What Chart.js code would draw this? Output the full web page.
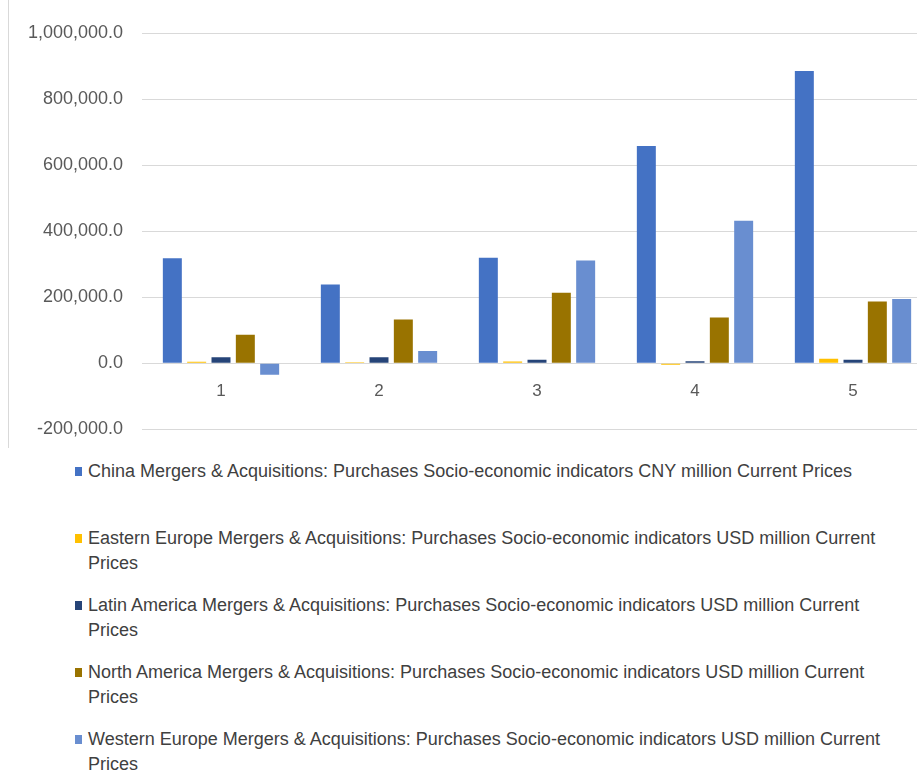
<!DOCTYPE html>
<html>
<head>
<meta charset="utf-8">
<script src="https://cdn.jsdelivr.net/npm/chart.js@4/dist/chart.umd.min.js"></script>
<style>
  html, body { margin: 0; padding: 0; background: #fff; }
  body { width: 917px; height: 771px; overflow: hidden; position: relative; font-family: "Liberation Sans", Arial, sans-serif; }
  #frame { position: absolute; left: 8px; top: 0; width: 0; height: 448px; border-left: 1px solid #d9d9d9; }
  #c { position: absolute; left: 0; top: 0; }
  #legend { position: absolute; left: 75px; top: 459px; width: 830px; }
  .item { position: relative; height: 67px; padding-left: 13px; font-size: 18px; line-height: 24.5px; color: #404040; white-space: nowrap; }
  .item .sw { position: absolute; left: 0; top: 8px; width: 7px; height: 9px; }
</style>
</head>
<body>
<div id="frame"></div>
<canvas id="c" width="940" height="459"></canvas>
<div id="legend"></div>
<script>
const categories = ['1', '2', '3', '4', '5'];
const seriesNames = [
  'China Mergers & Acquisitions: Purchases Socio-economic indicators CNY million Current Prices',
  'Eastern Europe Mergers & Acquisitions: Purchases Socio-economic indicators USD million Current Prices',
  'Latin America Mergers & Acquisitions: Purchases Socio-economic indicators USD million Current Prices',
  'North America Mergers & Acquisitions: Purchases Socio-economic indicators USD million Current Prices',
  'Western Europe Mergers & Acquisitions: Purchases Socio-economic indicators USD million Current Prices'
];
const china = [318000, 238000, 319000, 658000, 885000];
const easternEurope = [4000, 3000, 5000, -5000, 13000];
const latinAmerica = [18000, 18000, 10000, 6000, 10000];
const northAmerica = [86000, 132000, 213000, 138000, 187000];
const westernEurope = [-35000, 37000, 311000, 431000, 194000];
const yTicks = [-200000, 0, 200000, 400000, 600000, 800000, 1000000];

const colors = ['#4472C4', '#FFC000', '#264478', '#997300', '#698ED0'];
const values = [china, easternEurope, latinAmerica, northAmerica, westernEurope];

const datasets = values.map((v, i) => ({
  label: seriesNames[i],
  data: v,
  backgroundColor: colors[i],
  borderWidth: 0,
  categoryPercentage: 0.77,
  barPercentage: 0.78
}));

new Chart(document.getElementById('c'), {
  type: 'bar',
  data: { labels: categories, datasets },
  options: {
    responsive: false,
    animation: false,
    devicePixelRatio: 1,
    layout: { padding: { top: 33, right: 8, bottom: 11, left: 0 } },
    plugins: { legend: { display: false }, title: { display: false }, tooltip: { enabled: false } },
    scales: {
      x: {
        position: { y: 0 },
        grid: { display: false, drawTicks: false },
        border: { display: false },
        ticks: { color: '#595959', font: { family: 'Liberation Sans', size: 17 }, padding: 18 }
      },
      y: {
        min: yTicks[0],
        max: yTicks[yTicks.length - 1],
        afterBuildTicks: (scale) => { scale.ticks = yTicks.map(v => ({ value: v })); },
        afterFit: (scale) => { scale.width = 142; },
        grid: { color: '#d9d9d9', drawTicks: false, lineWidth: 1 },
        border: { display: false },
        ticks: {
          color: '#595959',
          font: { family: 'Liberation Sans', size: 18 },
          padding: 19,
          callback: (v) => Number(v).toLocaleString('en-US', { minimumFractionDigits: 1, maximumFractionDigits: 1 })
        }
      }
    }
  }
});

// HTML legend built from the series names and colours
const legend = document.getElementById('legend');
seriesNames.forEach((name, i) => {
  const div = document.createElement('div');
  div.className = 'item';
  const sw = document.createElement('span');
  sw.className = 'sw';
  sw.style.background = colors[i];
  div.appendChild(sw);
  if (i > 0) {
    const idx = name.lastIndexOf(' Prices');
    div.appendChild(document.createTextNode(name.slice(0, idx)));
    div.appendChild(document.createElement('br'));
    div.appendChild(document.createTextNode('Prices'));
  } else {
    div.appendChild(document.createTextNode(name));
  }
  legend.appendChild(div);
});
</script>
</body>
</html>
